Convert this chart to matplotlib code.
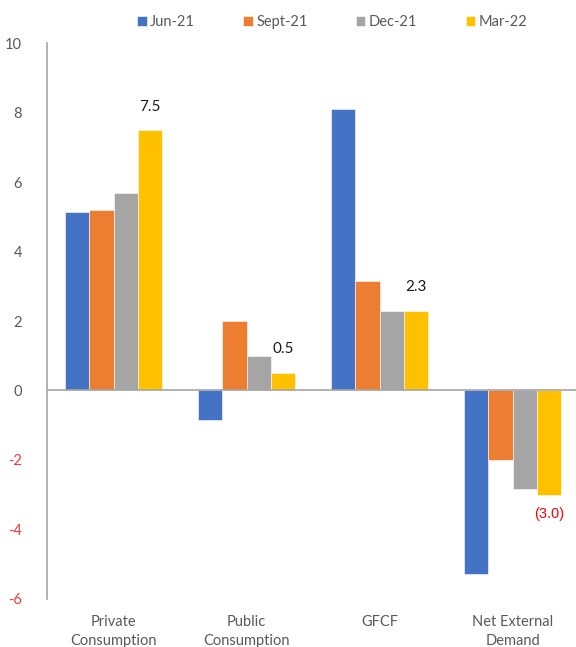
import matplotlib.pyplot as plt
import numpy as np

plt.rcParams['font.family'] = ['Lato', 'DejaVu Sans']
plt.rcParams['axes.unicode_minus'] = False

# data
categories = ['Private\nConsumption', 'Public\nConsumption', 'GFCF', 'Net External\nDemand']
series_names = ['Jun-21', 'Sept-21', 'Dec-21', 'Mar-22']
jun21 = [5.15, -0.85, 8.1, -5.3]
sep21 = [5.2, 2.0, 3.15, -2.0]
dec21 = [5.7, 1.0, 2.3, -2.85]
mar22 = [7.5, 0.5, 2.3, -3.0]
colors = ['#4472C4', '#ED7D31', '#A5A5A5', '#FFC000']

fig = plt.figure(figsize=(5.76, 6.47), dpi=100)
ax = fig.add_axes([47/576, 0.0747, 532/576, 0.9328 - 0.0747])

x = np.arange(len(categories))
w = 0.182
all_series = [jun21, sep21, dec21, mar22]
for i, (vals, name, c) in enumerate(zip(all_series, series_names, colors)):
    ax.bar(x + (i - 1.5) * w, vals, w, color=c, label=name,
           edgecolor='white', linewidth=0.4)

# data labels on Mar-22
for xi, v in zip(x + 1.5 * w, mar22):
    if v >= 0:
        ax.annotate(f'{v:.1f}', (xi, v), xytext=(0, 12), textcoords='offset points',
                    ha='center', va='bottom', fontsize=11, color='#1a1a1a')
    else:
        ax.annotate(f'({abs(v):.1f})', (xi, v), xytext=(0, -9), textcoords='offset points',
                    ha='center', va='top', fontsize=10.5, color='#FF0000',
                    family=['Liberation Sans'])

ax.set_xlim(-0.5, 3.5)
ax.set_ylim(-6, 10)
ax.set_yticks(np.arange(-6, 11, 2))
ax.set_xticks(x)
ax.set_xticklabels(categories, fontsize=10.5, color='#595959', linespacing=1.45)
ax.tick_params(axis='both', length=0)
ax.tick_params(axis='y', pad=18, labelsize=10.5, labelcolor='#595959')
ax.tick_params(axis='x', pad=12)
for lbl, val in zip(ax.get_yticklabels(), ax.get_yticks()):
    if val < 0:
        lbl.set_color('#F4393A')

ax.axhline(0, color='#A6A6A6', linewidth=1.2, zorder=3)
for s in ['top', 'right', 'bottom']:
    ax.spines[s].set_visible(False)
ax.spines['left'].set_color('#A6A6A6')
ax.spines['left'].set_linewidth(1.2)

fig.legend(loc='center', bbox_to_anchor=(0.577, 0.966), ncol=4, frameon=False,
           fontsize=10.5, labelcolor='#595959', handlelength=0.65, handleheight=0.65,
           handletextpad=0.25, columnspacing=3.3)

fig.savefig('out.png', dpi=100)
